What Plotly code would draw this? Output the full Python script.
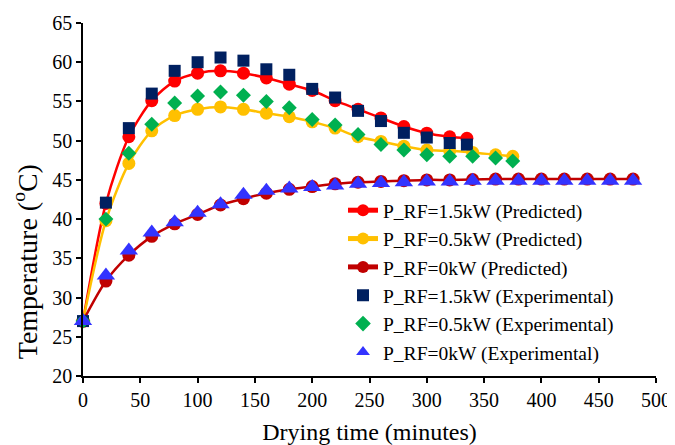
import plotly.graph_objects as go

# Drying times (minutes)
t_15 = [0, 20, 40, 60, 80, 100, 120, 140, 160, 180, 200, 220, 240, 260, 280, 300, 320, 335]
t_05 = [0, 20, 40, 60, 80, 100, 120, 140, 160, 180, 200, 220, 240, 260, 280, 300, 320, 340, 360, 375]
t_00 = [0, 20, 40, 60, 80, 100, 120, 140, 160, 180, 200, 220, 240, 260, 280, 300, 320, 340, 360, 380,
        400, 420, 440, 460, 480]

# Temperatures (ºC)
pred_15 = [27, 42.0, 50.5, 55.1, 57.6, 58.6, 58.9, 58.6, 58.0, 57.2, 56.4, 55.1, 54.0, 52.9, 51.8, 50.95, 50.5, 50.3]
exp_15 = [27, 42.1, 51.6, 56.0, 58.9, 60.0, 60.6, 60.2, 59.1, 58.4, 56.6, 55.5, 53.8, 52.5, 51.0, 50.4, 49.7, 49.5]

pred_05 = [27, 39.8, 47.1, 51.25, 53.2, 54.0, 54.3, 54.0, 53.5, 53.05, 52.4, 51.6, 50.5, 49.9, 49.3, 48.8, 48.7,
           48.5, 48.2, 48.0]
exp_05 = [27, 40.0, 48.4, 52.1, 54.8, 55.7, 56.2, 55.8, 55.0, 54.2, 52.7, 52.0, 50.8, 49.5, 48.8, 48.2, 48.0,
          48.0, 47.8, 47.4]

pred_00 = [27, 32.1, 35.4, 37.8, 39.4, 40.6, 41.8, 42.6, 43.3, 43.8, 44.15, 44.5, 44.7, 44.8, 44.9, 45.0, 45.0,
           45.05, 45.1, 45.1, 45.1, 45.1, 45.1, 45.1, 45.1]
exp_00 = [27, 32.8, 36.0, 38.3, 39.6, 40.8, 41.9, 43.1, 43.6, 43.9, 44.1, 44.3, 44.5, 44.6, 44.7, 44.8, 44.8,
          44.9, 44.9, 44.9, 44.9, 44.9, 44.9, 44.9, 44.9]

names = ["P_RF=1.5kW (Predicted)", "P_RF=0.5kW (Predicted)", "P_RF=0kW (Predicted)",
         "P_RF=1.5kW (Experimental)", "P_RF=0.5kW (Experimental)", "P_RF=0kW (Experimental)"]

x_ticks = [0, 50, 100, 150, 200, 250, 300, 350, 400, 450, 500]
y_ticks = [20, 25, 30, 35, 40, 45, 50, 55, 60, 65]

x_title = "Drying time (minutes)"
y_title = "Temperature (<sup>o</sup>C)"

FONT = "Liberation Serif, serif"

fig = go.Figure()

pred = [(t_15, pred_15, "#FF0000"), (t_05, pred_05, "#FFC000"), (t_00, pred_00, "#C00000")]
for i, (x, y, c) in enumerate(pred):
    fig.add_trace(go.Scatter(
        x=x, y=y, name=names[i], mode="lines+markers",
        line=dict(color=c, width=2.5, shape="spline", smoothing=0.8),
        marker=dict(color=c, size=13, symbol="circle"),
        cliponaxis=False))

exps = [(t_15, exp_15, "#002060", "square", 12),
        (t_05, exp_05, "#00B050", "diamond", 11.5),
        (t_00, exp_00, "#3333FF", "triangle-up", 16)]
for j, (x, y, c, s, sz) in enumerate(exps):
    fig.add_trace(go.Scatter(
        x=x, y=y, name=names[3 + j], mode="markers",
        marker=dict(color=c, size=sz, symbol=s),
        cliponaxis=False))

# the page body adds an 8px offset; figure is sized so it fits the 675x445 window
fig.update_layout(
    width=667, height=437,
    margin=dict(l=75, r=19, t=15, b=69),
    paper_bgcolor="white", plot_bgcolor="white",
    font=dict(family=FONT, size=20, color="#000000"),
    showlegend=True,
    legend=dict(x=0.4538, y=0.524, xanchor="left", yanchor="top",
                bgcolor="rgba(255,255,255,0)", font=dict(family=FONT, size=19.5),
                itemsizing="constant"),
    annotations=[dict(text=y_title, textangle=-90, xref="paper", yref="paper",
                      x=-0.099, y=0.323, xanchor="center", yanchor="middle",
                      showarrow=False, font=dict(family=FONT, size=28, color="#000000"))],
)
fig.update_xaxes(range=[0, 500], tickvals=x_ticks, automargin=False,
                 showline=True, linecolor="black", linewidth=1.5, ticks="outside", ticklen=5,
                 tickcolor="black", tickwidth=1.5, showgrid=False, zeroline=False,
                 tickfont=dict(family=FONT, size=20),
                 title=dict(text=x_title, font=dict(family=FONT, size=24), standoff=15))
fig.update_yaxes(range=[20, 65], tickvals=y_ticks, automargin=False,
                 showline=True, linecolor="black", linewidth=1.5, ticks="outside", ticklen=5,
                 tickcolor="black", tickwidth=1.5, showgrid=False, zeroline=False,
                 tickfont=dict(family=FONT, size=20))

fig.write_html("out.html")
